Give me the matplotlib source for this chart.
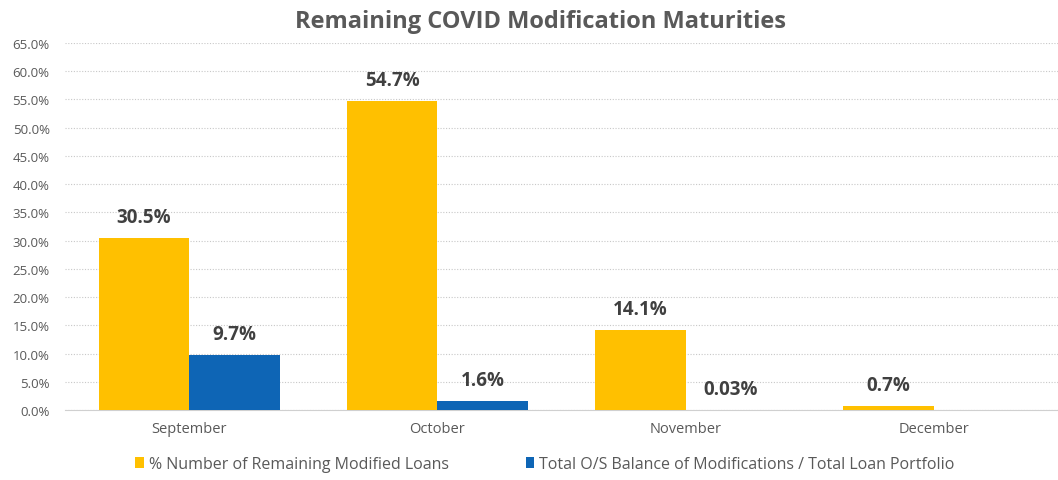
import matplotlib.pyplot as plt
import numpy as np
from matplotlib.ticker import FuncFormatter

months = ["September", "October", "November", "December"]
pct_loans = [30.5, 54.7, 14.1, 0.7]
pct_balance = [9.7, 1.6, 0.03, 0.0]
loan_labels = ["30.5%", "54.7%", "14.1%", "0.7%"]
balance_labels = ["9.7%", "1.6%", "0.03%", ""]
series_names = ["% Number of Remaining Modified Loans",
                "Total O/S Balance of Modifications / Total Loan Portfolio"]

plt.rcParams["font.family"] = ["Open Sans", "DejaVu Sans"]
yellow = "#FFC000"
blue = "#0E65B5"
grey = "#595959"

fig = plt.figure(figsize=(10.58, 4.81), dpi=100)
ax = fig.add_axes([65 / 1058, 70 / 481, 993 / 1058, 367 / 481])

x = np.arange(len(months))
w = 0.365
b1 = ax.bar(x - w / 2, pct_loans, w, color=yellow, label=series_names[0], zorder=3)
b2 = ax.bar(x + w / 2, pct_balance, w, color=blue, label=series_names[1], zorder=3)

for bars, labels in ((b1, loan_labels), (b2, balance_labels)):
    for rect, txt in zip(bars, labels):
        if not txt:
            continue
        ax.annotate(txt, (rect.get_x() + rect.get_width() / 2, rect.get_height()),
                    xytext=(0, 8), textcoords="offset points", ha="center",
                    va="bottom", fontsize=13.5, fontweight="bold", color="#404040")

ax.set_xlim(-0.5, 3.5)
ax.set_ylim(0, 65)
ax.set_yticks(np.arange(0, 66, 5))
ax.yaxis.set_major_formatter(FuncFormatter(lambda v, p: f"{v:.1f}%"))
ax.set_xticks(x)
ax.set_xticklabels(months)
ax.tick_params(axis="both", length=0, colors=grey)
ax.tick_params(axis="y", labelsize=9.5, pad=11)
ax.tick_params(axis="x", labelsize=10.5, pad=8)
ax.grid(axis="y", linestyle=(0, (1, 1.5)), color="#C8C8C8", linewidth=0.8, zorder=0)
for s in ("top", "right", "left"):
    ax.spines[s].set_visible(False)
ax.spines["bottom"].set_color("#D0D0D0")

fig.text(0.511, 0.955, "Remaining COVID Modification Maturities", ha="center",
         va="center", fontsize=17, fontweight="bold", color=grey)

fig.legend(handles=[b1, b2], loc="center", bbox_to_anchor=(0.515, 0.033),
           ncol=2, frameon=False, fontsize=11.5, handlelength=0.55, handleheight=0.6,
           handletextpad=0.3, columnspacing=4.8, labelcolor=grey)

fig.savefig("out.png", dpi=100)
